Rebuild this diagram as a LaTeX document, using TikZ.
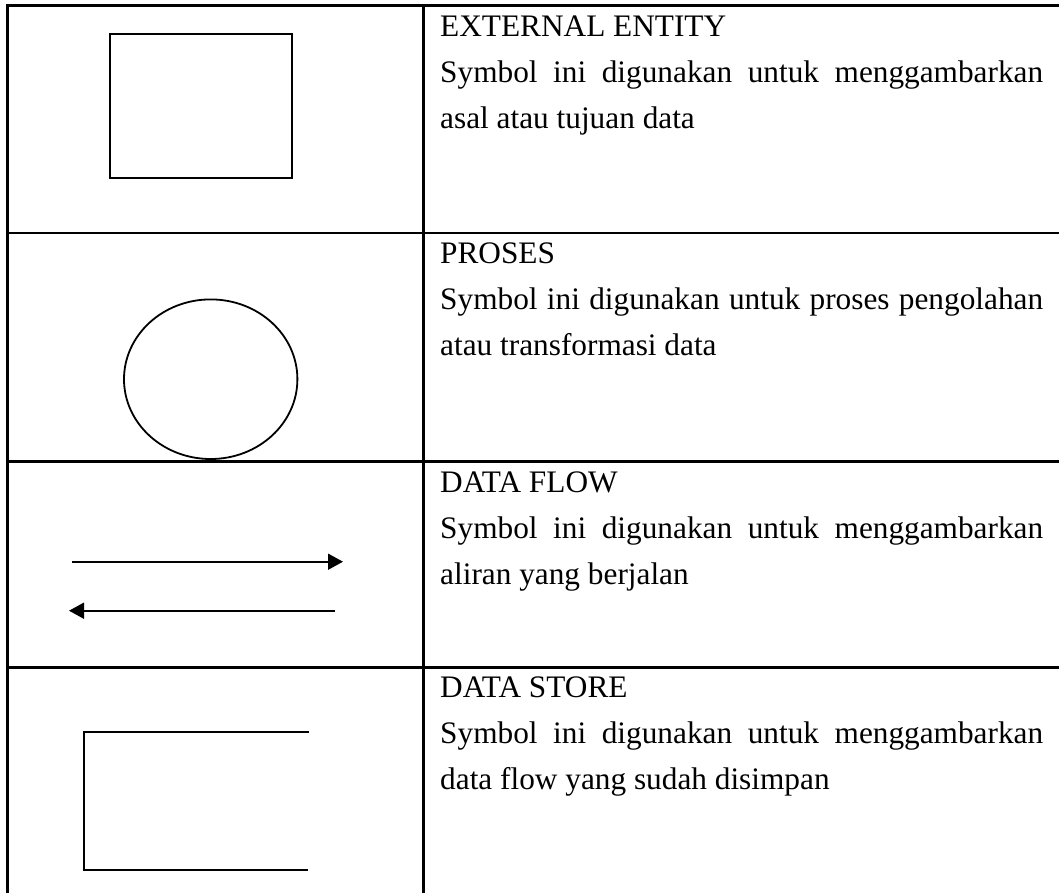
\documentclass[tikz,border=0pt]{standalone}
\usepackage{fontspec}
\setmainfont{Liberation Serif}
\usetikzlibrary{arrows.meta}
\begin{document}
\begin{tikzpicture}[x=1pt,y=-1pt,
  grid/.style={line width=2.6pt, line cap=rect},
  symline/.style={line width=1.8pt},
  flow/.style={line width=1.6pt, -{Triangle[length=15pt,width=16pt]}},
  txt/.style={anchor=base west, inner sep=0pt, font=\fontsize{31.3}{40}\selectfont}]
\useasboundingbox (0,0) rectangle (1059,892);
% table grid
\draw[grid] (7.3,895) -- (7.3,5.7) -- (1062,5.7);
\draw[grid] (423.3,5.7) -- (423.3,895);
\draw[grid] (7.3,233) -- (1062,233);
\draw[grid] (7.3,461.7) -- (1062,461.7);
\draw[grid] (7.3,667.3) -- (1062,667.3);
% symbols
\draw[symline] (110,34) rectangle (292,178);
\draw[symline] (210.7,379.2) ellipse [x radius=86.7, y radius=79.8];
\coordinate (a1s) at (72,561.7);
\coordinate (a1e) at (343,561.7);
\coordinate (a2s) at (335,610.7);
\coordinate (a2e) at (69,610.7);
\draw[flow] (a1s) -- (a1e);
\draw[flow] (a2s) -- (a2e);
\draw[symline] (309,731.7) -- (84,731.7) -- (84,870) -- (308,870);
% texts
\node[txt] (t1a) at (440,36) {EXTERNAL ENTITY};
\node[txt] (t1b) at (440,82) {\makebox[603pt][s]{Symbol ini digunakan untuk menggambarkan}};
\node[txt] (t1c) at (440,128) {asal atau tujuan data};
\node[txt] (t2a) at (440,263.5) {PROSES};
\node[txt] (t2b) at (440,309.5) {\makebox[603pt][s]{Symbol ini digunakan untuk proses pengolahan}};
\node[txt] (t2c) at (440,355.5) {atau transformasi data};
\node[txt] (t3a) at (440,492.2) {DATA FLOW};
\node[txt] (t3b) at (440,538.2) {\makebox[603pt][s]{Symbol ini digunakan untuk menggambarkan}};
\node[txt] (t3c) at (440,584.2) {aliran yang berjalan};
\node[txt] (t4a) at (440,697.8) {DATA STORE};
\node[txt] (t4b) at (440,743.8) {\makebox[603pt][s]{Symbol ini digunakan untuk menggambarkan}};
\node[txt] (t4c) at (440,789.8) {data flow yang sudah disimpan};
\end{tikzpicture}
\end{document}
